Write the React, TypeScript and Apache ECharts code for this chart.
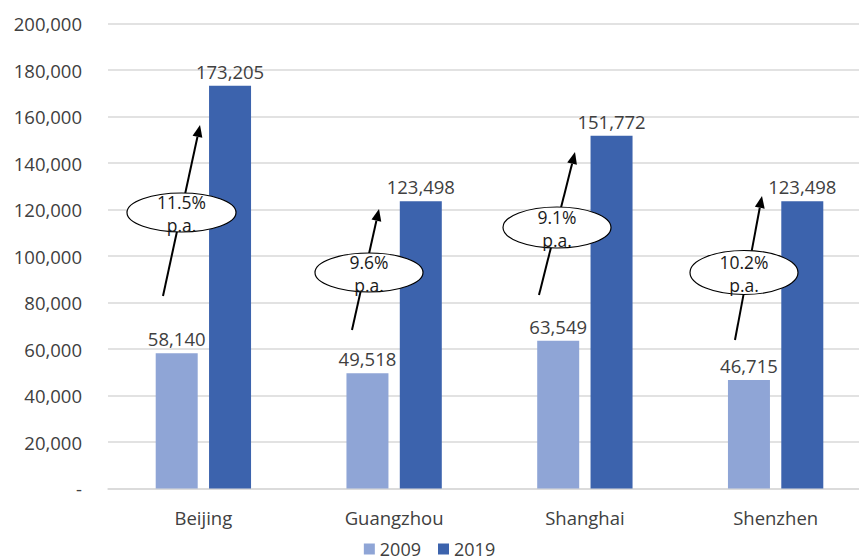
import React, { useEffect, useRef } from "react";
import * as echarts from "echarts";

const categories = ["Beijing", "Guangzhou", "Shanghai", "Shenzhen"];
const values2009 = [58140, 49518, 63549, 46715];
const values2019 = [173205, 123498, 151772, 123498];
const seriesNames = ["2009", "2019"];
const growthLabels = ["11.5%", "9.6%", "9.1%", "10.2%"];
const growthSuffix = "p.a.";

// annotation layout (pixels)
const arrowTails = [[163, 296], [352, 330], [539, 295], [735, 340]];
const arrowTips = [[200, 125], [379, 209], [575, 152], [762, 196]];
const ellipseCenters = [[181.5, 212.5], [369, 272.5], [557, 227.5], [744, 272.5]];
const ellipseRadii = [[54.5, 19.5], [54, 19.5], [54, 20.5], [54, 22]];

const FONT = "'Open Sans', 'Liberation Sans', sans-serif";
const TEXT = "#404040";

function buildAnnotations() {
  const els: any[] = [];
  growthLabels.forEach((lab, i) => {
    const [x1, y1] = arrowTails[i];
    const [x2, y2] = arrowTips[i];
    const dx = x2 - x1, dy = y2 - y1;
    const len = Math.sqrt(dx * dx + dy * dy);
    const ux = dx / len, uy = dy / len;
    const headL = 12, headW = 5;
    const bx = x2 - ux * headL, by = y2 - uy * headL;
    const px = -uy, py = ux;
    els.push({
      type: "line",
      shape: { x1, y1, x2: bx, y2: by },
      style: { stroke: "#000", lineWidth: 2 },
      z: 100,
    });
    els.push({
      type: "polygon",
      shape: {
        points: [
          [x2, y2],
          [bx + px * headW, by + py * headW],
          [bx - px * headW, by - py * headW],
        ],
      },
      style: { fill: "#000" },
      z: 100,
    });
    const [cx, cy] = ellipseCenters[i];
    const [rx, ry] = ellipseRadii[i];
    els.push({
      type: "ellipse",
      shape: { cx, cy, rx, ry },
      style: { fill: "#fff", stroke: "#000", lineWidth: 1.2 },
      z: 101,
    });
    els.push({
      type: "text",
      x: cx,
      y: cy - 11,
      style: {
        text: lab,
        font: `17.5px ${FONT}`,
        fill: "#1a1a1a",
        textAlign: "center",
        textVerticalAlign: "middle",
      },
      z: 102,
    });
    els.push({
      type: "text",
      x: cx,
      y: cy + 12,
      style: {
        text: growthSuffix,
        font: `17.5px ${FONT}`,
        fill: "#1a1a1a",
        textAlign: "center",
        textVerticalAlign: "middle",
      },
      z: 102,
    });
  });
  return els;
}

export default function App() {
  const ref = useRef<HTMLDivElement>(null);
  useEffect(() => {
    if (!ref.current) return;
    const chart = echarts.init(ref.current, null, { renderer: "svg" });
    const fmt = (v: number) => (v === 0 ? "-" : v.toLocaleString("en-US"));
    const labelStyle = {
      show: true,
      position: "top",
      distance: 5,
      color: TEXT,
      fontFamily: FONT,
      fontSize: 18.5,
      formatter: (p: any) => fmt(p.value),
    };
    chart.setOption({
      animation: false,
      textStyle: { fontFamily: FONT },
      grid: {
        left: 108,
        width: 763,
        top: 23.5,
        bottom: 71.5,
        containLabel: false,
        outerBoundsMode: "none",
      },
      legend: {
        data: seriesNames,
        top: 539,
        left: "center",
        itemWidth: 11,
        itemHeight: 11,
        itemGap: 17,
        padding: 0,
        icon: "rect",
        textStyle: { color: TEXT, fontSize: 18, lineHeight: 20, fontFamily: FONT },
      },
      xAxis: {
        type: "category",
        data: categories,
        axisLine: { lineStyle: { color: "#d9d9d9", width: 1.5 } },
        axisTick: { show: false },
        axisLabel: { color: TEXT, fontSize: 18.5, fontFamily: FONT, margin: 19 },
      },
      yAxis: {
        type: "value",
        min: 0,
        max: 200000,
        interval: 20000,
        axisLine: { show: false },
        axisTick: { show: false },
        splitLine: { lineStyle: { color: "#d9d9d9", width: 1.5 } },
        axisLabel: { color: TEXT, fontSize: 18.5, fontFamily: FONT, margin: 26, formatter: fmt },
      },
      series: [
        {
          name: seriesNames[0],
          type: "bar",
          data: values2009,
          barWidth: 42,
          barGap: "27%",
          itemStyle: { color: "#8FA5D6" },
          label: labelStyle,
        },
        {
          name: seriesNames[1],
          type: "bar",
          data: values2019,
          barWidth: 42,
          barGap: "27%",
          itemStyle: { color: "#3C63AD" },
          label: labelStyle,
        },
      ],
      graphic: buildAnnotations(),
    });
    return () => chart.dispose();
  }, []);
  return <div ref={ref} style={{ width: 859, height: 560, position: "absolute", left: 0, top: 0, overflow: "hidden" }} />;
}
